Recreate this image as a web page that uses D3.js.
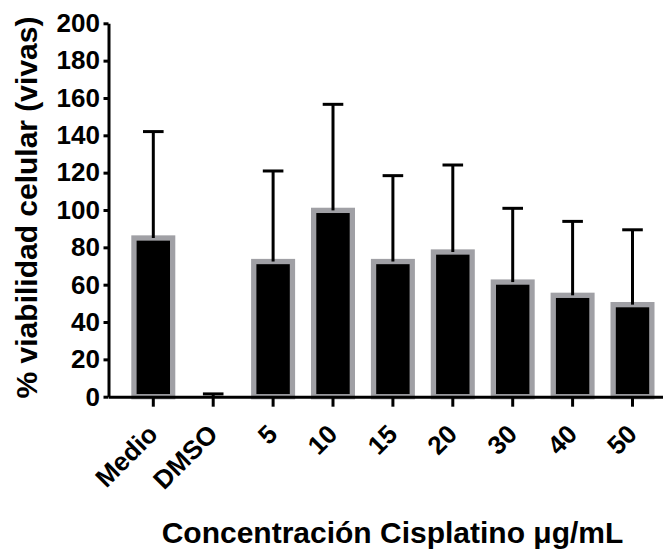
<!DOCTYPE html>
<html>
<head>
<meta charset="utf-8">
<script src="https://cdn.jsdelivr.net/npm/d3@7"></script>
<style>
  html, body { margin: 0; padding: 0; background: #fff; }
  svg { display: block; }
  text { font-family: "Liberation Sans", Arial, Helvetica, sans-serif; font-weight: bold; fill: #000; }
</style>
</head>
<body>
<svg id="chart" width="663" height="550"></svg>
<script>
// Cell viability after cisplatin treatment (mean + SD)
const categories = ["Medio", "DMSO", "5", "10", "15", "20", "30", "40", "50"];
const means      = [85, 0, 72.4, 99.8, 72.4, 77.5, 61.4, 54.3, 49.3];
const sds        = [57, 1.5, 48.5, 56.8, 46, 46.6, 39.5, 39.6, 40.1];
const yTicks     = [0, 20, 40, 60, 80, 100, 120, 140, 160, 180, 200];
const yTitle     = "% viabilidad celular (vivas)";
const xTitle     = "Concentración Cisplatino μg/mL";

const data = categories.map((c, i) => ({ cat: c, mean: means[i], sd: sds[i] }));

const svg = d3.select("#chart");

const x0 = 108.5, y0 = 396.7, yTop = 23.3;
const step = 59.9, padIn = 0.354, padOut = 0.425;

const x = d3.scaleBand()
  .domain(categories)
  .range([x0, x0 + step * (categories.length - padIn + 2 * padOut)])
  .paddingInner(padIn)
  .paddingOuter(padOut);

const y = d3.scaleLinear().domain([0, 200]).range([y0, yTop]);

// Bars: black fill with a thick grey outline
svg.append("g")
  .selectAll("rect")
  .data(data)
  .join("rect")
  .attr("x", d => x(d.cat))
  .attr("y", d => y(d.mean))
  .attr("width", x.bandwidth())
  .attr("height", d => y(0) - y(d.mean))
  .attr("fill", "#000")
  .attr("stroke", "#a0a0a5")
  .attr("stroke-width", 5.3);

// Upper error bars (mean + SD)
const capW = 20.6;
const err = svg.append("g")
  .attr("stroke", "#000")
  .attr("stroke-width", 3);

err.selectAll("line.stem")
  .data(data)
  .join("line")
  .attr("class", "stem")
  .attr("x1", d => x(d.cat) + x.bandwidth() / 2)
  .attr("x2", d => x(d.cat) + x.bandwidth() / 2)
  .attr("y1", d => y(d.mean))
  .attr("y2", d => y(d.mean + d.sd));

err.selectAll("line.cap")
  .data(data)
  .join("line")
  .attr("class", "cap")
  .attr("x1", d => x(d.cat) + x.bandwidth() / 2 - capW / 2)
  .attr("x2", d => x(d.cat) + x.bandwidth() / 2 + capW / 2)
  .attr("y1", d => y(d.mean + d.sd))
  .attr("y2", d => y(d.mean + d.sd));

// Y axis
const yAxis = svg.append("g")
  .attr("transform", `translate(${x0},0)`)
  .call(d3.axisLeft(y).tickValues(yTicks).tickSize(5).tickSizeOuter(0).tickPadding(3.5));
yAxis.select(".domain").attr("stroke", "#000").attr("stroke-width", 3);
yAxis.selectAll(".tick line").attr("stroke", "#000").attr("stroke-width", 3);
yAxis.selectAll(".tick text")
  .attr("font-size", 26)
  .attr("font-family", "'Liberation Sans', Arial, sans-serif")
  .attr("font-weight", "bold")
  .attr("fill", "#000");

// X axis
const xAxis = svg.append("g")
  .attr("transform", `translate(0,${y0})`)
  .call(d3.axisBottom(x).tickSize(10).tickSizeOuter(0));
xAxis.select(".domain").attr("stroke", "#000").attr("stroke-width", 3);
xAxis.selectAll(".tick line").attr("stroke", "#000").attr("stroke-width", 3);
xAxis.selectAll(".tick text")
  .attr("font-size", 26)
  .attr("font-family", "'Liberation Sans', Arial, sans-serif")
  .attr("font-weight", "bold")
  .attr("fill", "#000")
  .attr("text-anchor", "end")
  .attr("x", null).attr("y", null).attr("dy", null)
  .attr("transform", "translate(6,39) rotate(-45)");

// Axis titles
svg.append("text")
  .attr("transform", "translate(37,207.5) rotate(-90)")
  .attr("text-anchor", "middle")
  .attr("font-size", 30)
  .text(yTitle);

svg.append("text")
  .attr("x", 392.5)
  .attr("y", 543)
  .attr("text-anchor", "middle")
  .attr("font-size", 30)
  .text(xTitle);
</script>
</body>
</html>
